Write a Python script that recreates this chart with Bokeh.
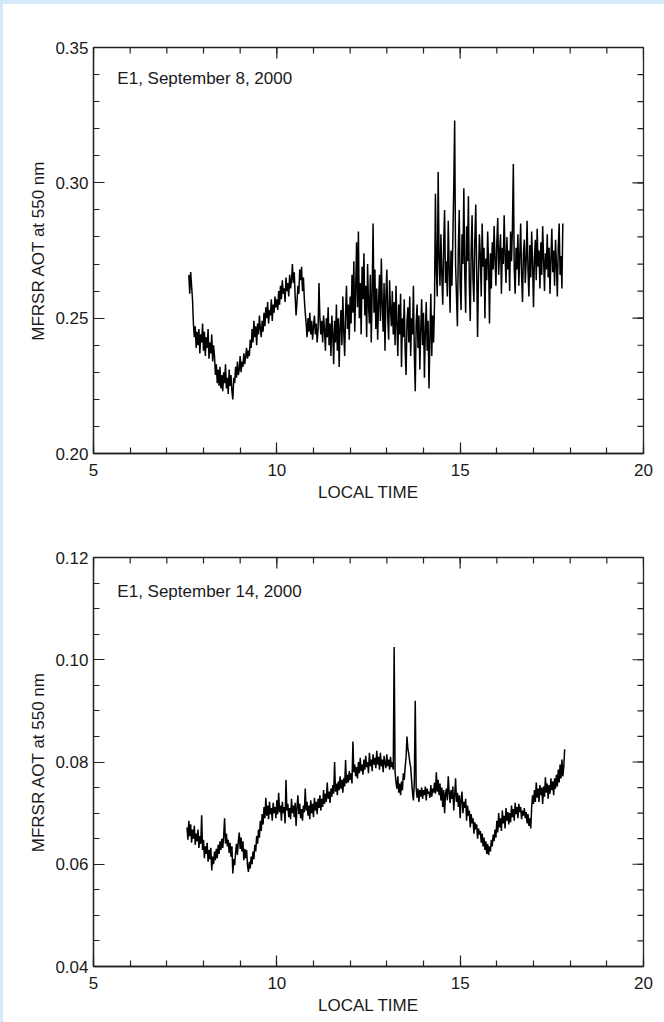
import numpy as np
from bokeh.plotting import figure
from bokeh.layouts import column
from bokeh.models import Range1d, FixedTicker, NumeralTickFormatter, Label
from bokeh.embed import file_html
from bokeh.resources import INLINE

# ---------------- data ----------------
# Panel 1: E1, September 8, 2000 (samples every 0.025 h starting 7.600 h)
sep8_start = 7.600
sep8_step = 0.025
sep8_aot = [
    # 7.600 - 7.975
    0.266, 0.259, 0.267, 0.262, 0.257, 0.248, 0.243, 0.247, 0.239, 0.245, 0.240, 0.246, 0.237, 0.244, 0.241, 0.248,
    # 8.000 - 8.375
    0.238, 0.245, 0.236, 0.243, 0.239, 0.246, 0.235, 0.241, 0.237, 0.244, 0.234, 0.240, 0.236, 0.229, 0.233, 0.226,
    # 8.400 - 8.775
    0.231, 0.225, 0.232, 0.224, 0.229, 0.223, 0.230, 0.226, 0.233, 0.224, 0.228, 0.222, 0.231, 0.225, 0.229, 0.223,
    # 8.800 - 9.175
    0.220, 0.228, 0.226, 0.232, 0.228, 0.234, 0.229, 0.231, 0.236, 0.230, 0.234, 0.232, 0.237, 0.233, 0.236, 0.239,
    # 9.200 - 9.575
    0.235, 0.238, 0.236, 0.242, 0.239, 0.246, 0.241, 0.249, 0.243, 0.247, 0.240, 0.248, 0.244, 0.251, 0.246, 0.243,
    # 9.600 - 9.975
    0.249, 0.245, 0.252, 0.247, 0.254, 0.250, 0.256, 0.248, 0.253, 0.251, 0.257, 0.249, 0.255, 0.252, 0.258, 0.254,
    # 10.000 - 10.375
    0.257, 0.253, 0.260, 0.255, 0.262, 0.257, 0.264, 0.259, 0.261, 0.256, 0.265, 0.260, 0.263, 0.258, 0.266, 0.261,
    # 10.400 - 10.775
    0.264, 0.270, 0.263, 0.267, 0.258, 0.251, 0.256, 0.262, 0.259, 0.268, 0.264, 0.269, 0.260, 0.265, 0.257, 0.252,
    # 10.800 - 11.175
    0.248, 0.243, 0.250, 0.245, 0.252, 0.244, 0.249, 0.242, 0.247, 0.251, 0.244, 0.248, 0.241, 0.246, 0.263, 0.250,
    # 11.200 - 11.575
    0.244, 0.249, 0.241, 0.251, 0.246, 0.238, 0.250, 0.243, 0.254, 0.240, 0.248, 0.236, 0.251, 0.244, 0.233, 0.249,
    # 11.600 - 11.975
    0.241, 0.255, 0.238, 0.250, 0.232, 0.247, 0.253, 0.240, 0.258, 0.245, 0.236, 0.252, 0.262, 0.246, 0.255, 0.242,
    # 12.000 - 12.375
    0.258, 0.248, 0.266, 0.252, 0.271, 0.245, 0.260, 0.278, 0.254, 0.282, 0.250, 0.263, 0.244, 0.269, 0.257, 0.274,
    # 12.400 - 12.775
    0.251, 0.262, 0.243, 0.270, 0.255, 0.248, 0.266, 0.241, 0.259, 0.285, 0.252, 0.268, 0.246, 0.261, 0.242, 0.256,
    # 12.800 - 13.175
    0.266, 0.249, 0.272, 0.255, 0.245, 0.263, 0.238, 0.258, 0.268, 0.250, 0.242, 0.264, 0.253, 0.247, 0.260, 0.244,
    # 13.200 - 13.575
    0.256, 0.240, 0.262, 0.248, 0.236, 0.255, 0.244, 0.259, 0.232, 0.250, 0.243, 0.257, 0.238, 0.229, 0.249, 0.254,
    # 13.600 - 13.975
    0.241, 0.258, 0.236, 0.250, 0.244, 0.262, 0.237, 0.223, 0.248, 0.255, 0.239, 0.251, 0.231, 0.246, 0.257, 0.240,
    # 14.000 - 14.300
    0.252, 0.228, 0.245, 0.256, 0.238, 0.249, 0.224, 0.243, 0.259, 0.236, 0.251, 0.241, 0.255,
    # 14.325 - 14.800
    0.296, 0.268, 0.258, 0.304, 0.272, 0.262, 0.281, 0.266, 0.255, 0.277, 0.290, 0.263, 0.271, 0.258, 0.286, 0.269,
    0.252, 0.275, 0.262, 0.279,
    # 14.825 - 14.875
    0.298, 0.323, 0.270,
    # 14.900 - 15.375
    0.258, 0.247, 0.276, 0.290, 0.262, 0.253, 0.281, 0.270, 0.298, 0.266, 0.252, 0.284, 0.271, 0.295, 0.262, 0.249,
    0.275, 0.288, 0.264, 0.256,
    # 15.400 - 15.875
    0.279, 0.292, 0.268, 0.243, 0.266, 0.281, 0.273, 0.258, 0.285, 0.269, 0.276, 0.250, 0.272, 0.264, 0.282, 0.270,
    0.248, 0.274, 0.261, 0.278,
    # 15.900 - 16.400
    0.268, 0.284, 0.272, 0.262, 0.278, 0.287, 0.266, 0.274, 0.281, 0.259, 0.276, 0.270, 0.288, 0.273, 0.263, 0.280,
    0.268, 0.275, 0.260, 0.282, 0.271,
    # 16.425 - 16.475
    0.283, 0.307, 0.268,
    # 16.500 - 17.275
    0.259, 0.276, 0.268, 0.281, 0.262, 0.273, 0.285, 0.266, 0.256, 0.274, 0.279, 0.263, 0.271, 0.286, 0.268, 0.258,
    0.277, 0.265, 0.282, 0.270, 0.254, 0.272, 0.279, 0.264, 0.283, 0.269, 0.275, 0.261, 0.278, 0.266, 0.284, 0.272,
    # 17.300 - 17.800
    0.260, 0.274, 0.268, 0.281, 0.265, 0.276, 0.259, 0.272, 0.283, 0.267, 0.275, 0.262, 0.279, 0.270, 0.258, 0.276,
    0.285, 0.266, 0.273, 0.261, 0.285,
]

# Panel 2: E1, September 14, 2000 (samples every 0.025 h starting 7.550 h)
sep14_start = 7.550
sep14_step = 0.025
sep14_aot = [
    # 7.550 - 7.925
    0.0672, 0.0648, 0.0685, 0.0655, 0.0678, 0.0642, 0.0668, 0.0650, 0.0675, 0.0638, 0.0660, 0.0645, 0.0668, 0.0632, 0.0655, 0.0640,
    # 7.950 - 8.325
    0.0696, 0.0628, 0.0648, 0.0612, 0.0635, 0.0620, 0.0642, 0.0605, 0.0628, 0.0610, 0.0632, 0.0588, 0.0615, 0.0600, 0.0625, 0.0608,
    # 8.350 - 8.725
    0.0630, 0.0612, 0.0638, 0.0620, 0.0645, 0.0628, 0.0650, 0.0632, 0.0655, 0.0690, 0.0640, 0.0660, 0.0635, 0.0648, 0.0622, 0.0642,
    # 8.750 - 9.125
    0.0615, 0.0635, 0.0582, 0.0610, 0.0598, 0.0622, 0.0640, 0.0618, 0.0645, 0.0662, 0.0630, 0.0652, 0.0625, 0.0645, 0.0608, 0.0630,
    # 9.150 - 9.525
    0.0612, 0.0628, 0.0598, 0.0585, 0.0605, 0.0592, 0.0615, 0.0600, 0.0625, 0.0610, 0.0638, 0.0625, 0.0655, 0.0640, 0.0668, 0.0652,
    # 9.550 - 9.925
    0.0685, 0.0665, 0.0698, 0.0678, 0.0712, 0.0690, 0.0730, 0.0695, 0.0715, 0.0688, 0.0722, 0.0698, 0.0710, 0.0685, 0.0720, 0.0700,
    # 9.950 - 10.325
    0.0712, 0.0690, 0.0725, 0.0698, 0.0740, 0.0702, 0.0715, 0.0685, 0.0722, 0.0700, 0.0712, 0.0680, 0.0765, 0.0705, 0.0718, 0.0692,
    # 10.350 - 10.725
    0.0710, 0.0688, 0.0728, 0.0700, 0.0715, 0.0692, 0.0720, 0.0675, 0.0712, 0.0735, 0.0698, 0.0718, 0.0690, 0.0708, 0.0685, 0.0715,
    # 10.750 - 11.125
    0.0702, 0.0748, 0.0705, 0.0722, 0.0695, 0.0715, 0.0688, 0.0725, 0.0700, 0.0718, 0.0692, 0.0730, 0.0705, 0.0722, 0.0698, 0.0728,
    # 11.150 - 11.525
    0.0710, 0.0735, 0.0705, 0.0728, 0.0712, 0.0745, 0.0718, 0.0738, 0.0722, 0.0760, 0.0728, 0.0742, 0.0720, 0.0748, 0.0732, 0.0755,
    # 11.550 - 11.925
    0.0738, 0.0800, 0.0742, 0.0758, 0.0735, 0.0762, 0.0745, 0.0772, 0.0748, 0.0765, 0.0740, 0.0768, 0.0752, 0.0804, 0.0758, 0.0775,
    # 11.950 - 12.325
    0.0760, 0.0782, 0.0765, 0.0778, 0.0758, 0.0840, 0.0780, 0.0795, 0.0772, 0.0790, 0.0768, 0.0800, 0.0778, 0.0808, 0.0782, 0.0795,
    # 12.350 - 12.725
    0.0775, 0.0805, 0.0785, 0.0812, 0.0790, 0.0800, 0.0778, 0.0818, 0.0792, 0.0805, 0.0782, 0.0815, 0.0795, 0.0808, 0.0788, 0.0822,
    # 12.750 - 13.125
    0.0795, 0.0810, 0.0785, 0.0818, 0.0792, 0.0805, 0.0780, 0.0812, 0.0798, 0.0788, 0.0815, 0.0792, 0.0805, 0.0785, 0.0810, 0.0790,
    # 13.150 - 13.525
    0.0800, 0.0785, 0.1025, 0.0780, 0.0760, 0.0748, 0.0772, 0.0740, 0.0758, 0.0735, 0.0762, 0.0745, 0.0778, 0.0765, 0.0790, 0.0810,
    # 13.550 - 13.925
    0.0850, 0.0825, 0.0815, 0.0800, 0.0790, 0.0765, 0.0740, 0.0725, 0.0760, 0.0920, 0.0750, 0.0730, 0.0748, 0.0722, 0.0745, 0.0732,
    # 13.950 - 14.325
    0.0750, 0.0728, 0.0745, 0.0735, 0.0752, 0.0725, 0.0748, 0.0738, 0.0742, 0.0730, 0.0755, 0.0732, 0.0748, 0.0740, 0.0760, 0.0738,
    # 14.350 - 14.725
    0.0780, 0.0742, 0.0765, 0.0735, 0.0758, 0.0725, 0.0750, 0.0712, 0.0745, 0.0700, 0.0738, 0.0748, 0.0725, 0.0772, 0.0740, 0.0720,
    # 14.750 - 15.125
    0.0745, 0.0728, 0.0752, 0.0705, 0.0735, 0.0768, 0.0722, 0.0740, 0.0712, 0.0735, 0.0690, 0.0728, 0.0742, 0.0700, 0.0722, 0.0710,
    # 15.150 - 15.525
    0.0728, 0.0685, 0.0715, 0.0695, 0.0705, 0.0672, 0.0698, 0.0680, 0.0690, 0.0660, 0.0682, 0.0668, 0.0678, 0.0650, 0.0670, 0.0658,
    # 15.550 - 15.925
    0.0665, 0.0642, 0.0660, 0.0635, 0.0652, 0.0628, 0.0645, 0.0620, 0.0640, 0.0618, 0.0635, 0.0625, 0.0648, 0.0635, 0.0658, 0.0645,
    # 15.950 - 16.325
    0.0668, 0.0652, 0.0685, 0.0662, 0.0700, 0.0672, 0.0690, 0.0665, 0.0705, 0.0680, 0.0695, 0.0670, 0.0710, 0.0685, 0.0702, 0.0678,
    # 16.350 - 16.725
    0.0700, 0.0682, 0.0715, 0.0692, 0.0708, 0.0685, 0.0720, 0.0698, 0.0712, 0.0690, 0.0718, 0.0702, 0.0712, 0.0688, 0.0705, 0.0695,
    # 16.750 - 17.125
    0.0710, 0.0690, 0.0702, 0.0680, 0.0698, 0.0675, 0.0690, 0.0670, 0.0712, 0.0735, 0.0718, 0.0745, 0.0722, 0.0760, 0.0730, 0.0748,
    # 17.150 - 17.525
    0.0722, 0.0755, 0.0735, 0.0750, 0.0718, 0.0752, 0.0732, 0.0770, 0.0740, 0.0758, 0.0728, 0.0755, 0.0738, 0.0768, 0.0745, 0.0762,
    # 17.550 - 17.850
    0.0735, 0.0768, 0.0748, 0.0775, 0.0752, 0.0785, 0.0760, 0.0795, 0.0768, 0.0805, 0.0772, 0.0790, 0.0825,
]

sep8_time = sep8_start + sep8_step * np.arange(len(sep8_aot))
sep14_time = sep14_start + sep14_step * np.arange(len(sep14_aot))

x_major = [5, 10, 15, 20]
x_minor = list(range(5, 21))
y8_major = [0.20, 0.25, 0.30, 0.35]
y8_minor = [0.20, 0.21, 0.22, 0.23, 0.24, 0.25, 0.26, 0.27, 0.28, 0.29,
            0.30, 0.31, 0.32, 0.33, 0.34, 0.35]
y14_major = [0.04, 0.06, 0.08, 0.10, 0.12]
y14_minor = [0.040, 0.045, 0.050, 0.055, 0.060, 0.065, 0.070, 0.075, 0.080,
             0.085, 0.090, 0.095, 0.100, 0.105, 0.110, 0.115, 0.120]

x_label = "LOCAL TIME"
y_label = "MFRSR AOT at 550 nm"
title8 = "E1, September 8, 2000"
title14 = "E1, September 14, 2000"

FONT = "Liberation Sans"
TXT = "#1a1a1a"
AX = "#222222"


def style_axis(ax, major, minor, fmt=None):
    ax.ticker = FixedTicker(ticks=major, minor_ticks=minor)
    ax.axis_line_color = AX
    ax.axis_line_width = 1.3
    ax.major_tick_line_color = AX
    ax.minor_tick_line_color = AX
    ax.major_tick_line_width = 1.2
    ax.minor_tick_line_width = 1.2
    ax.major_tick_in = 11
    ax.major_tick_out = 0
    ax.minor_tick_in = 6
    ax.minor_tick_out = 0
    ax.major_label_text_font = FONT
    ax.major_label_text_color = TXT
    ax.major_label_text_font_size = "17px"
    if fmt is not None:
        ax.formatter = fmt
    ax.axis_label_text_font = FONT
    ax.axis_label_text_font_size = "17px"
    ax.axis_label_text_font_style = "normal"
    ax.axis_label_text_color = TXT


def make_panel(t, v, y_major, y_minor, title, title_y, height, btop, bbot, margin):
    y0, y1 = y_major[0], y_major[-1]
    p = figure(width=661, height=height, output_backend="svg", toolbar_location=None,
               x_range=Range1d(5, 20), y_range=Range1d(y0, y1),
               min_border_left=90, min_border_right=21,
               min_border_top=btop, min_border_bottom=bbot,
               background_fill_color="white", border_fill_color="white")
    p.margin = margin
    p.grid.visible = False
    p.outline_line_color = AX
    p.outline_line_width = 1.3

    xa = p.xaxis[0]
    ya = p.yaxis[0]
    style_axis(xa, x_major, x_minor)
    style_axis(ya, y_major, y_minor, NumeralTickFormatter(format="0.00"))
    xa.major_label_standoff = 10
    ya.major_label_standoff = 5
    xa.axis_label = x_label
    ya.axis_label = y_label
    xa.axis_label_standoff = 4
    ya.axis_label_standoff = 4

    # inward ticks on the top and right frame edges (IDL style)
    p.ray(x=x_major, y=[y1] * len(x_major), length=11, angle=-np.pi / 2,
          length_units="screen", line_color=AX, line_width=1.2)
    p.ray(x=x_minor, y=[y1] * len(x_minor), length=6, angle=-np.pi / 2,
          length_units="screen", line_color=AX, line_width=1.2)
    p.ray(x=[20] * len(y_major), y=y_major, length=11, angle=np.pi,
          length_units="screen", line_color=AX, line_width=1.2)
    p.ray(x=[20] * len(y_minor), y=y_minor, length=6, angle=np.pi,
          length_units="screen", line_color=AX, line_width=1.2)

    p.line(t, v, line_color="black", line_width=1.5)

    p.add_layout(Label(x=5.65, y=title_y, text=title, text_font=FONT,
                       text_font_size="17px", text_color=TXT,
                       text_baseline="middle", text_align="left"))
    return p


p1 = make_panel(sep8_time, sep8_aot, y8_major, y8_minor, title8, 0.3385,
                507, 43, 58, (4, 0, 0, 3))
p2 = make_panel(sep14_time, sep14_aot, y14_major, y14_minor, title14, 0.1133,
                511, 46, 56, (0, 0, 0, 3))

layout = column(p1, p2, spacing=0,
                styles={"background-color": "white",
                        "box-shadow": "inset 3px 4px 0 #d2eafc"})

html = file_html(layout, INLINE)
html = html.replace("<body>", "<body style=\"margin:0;background:white\">", 1)
open("out.html", "w").write(html)
